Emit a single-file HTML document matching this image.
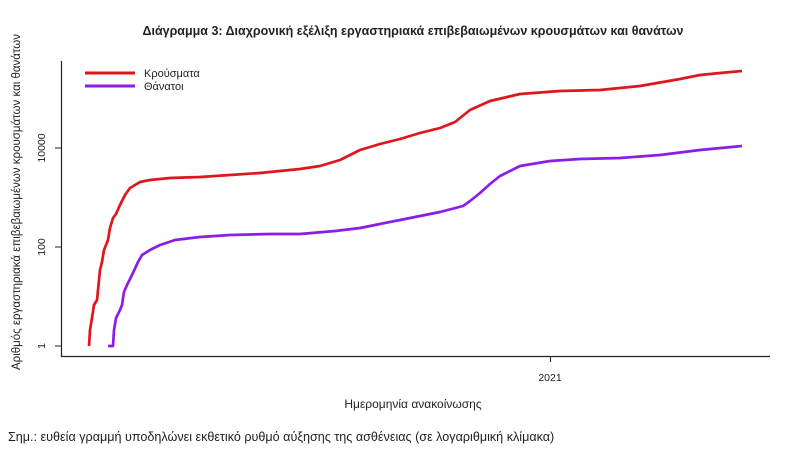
<!DOCTYPE html>
<html><head><meta charset="utf-8"><style>
html,body{margin:0;padding:0;background:#fff;}
svg{display:block;}
text{font-family:"Liberation Sans",sans-serif;fill:#222;}
</style></head><body>
<svg width="800" height="452" viewBox="0 0 800 452" xmlns="http://www.w3.org/2000/svg">
<text x="413" y="35" font-size="12.5" font-weight="bold" text-anchor="middle">Διάγραμμα 3: Διαχρονική εξέλιξη εργαστηριακά επιβεβαιωμένων κρουσμάτων και θανάτων</text>
<line x1="61.5" y1="61" x2="61.5" y2="357" stroke="#222" stroke-width="1.2"/>
<line x1="61" y1="356.5" x2="770" y2="356.5" stroke="#222" stroke-width="1.2"/>
<line x1="55" y1="346" x2="61" y2="346" stroke="#222"/>
<line x1="55" y1="247" x2="61" y2="247" stroke="#222"/>
<line x1="55" y1="148" x2="61" y2="148" stroke="#222"/>
<line x1="550.5" y1="356" x2="550.5" y2="362" stroke="#222"/>
<text transform="translate(45,346) rotate(-90)" font-size="10.5" text-anchor="middle">1</text>
<text transform="translate(45,247) rotate(-90)" font-size="10.5" text-anchor="middle">100</text>
<text transform="translate(45,148) rotate(-90)" font-size="10.5" text-anchor="middle">10000</text>
<text x="550" y="381" font-size="10.5" text-anchor="middle">2021</text>
<text x="413" y="408" font-size="12" text-anchor="middle">Ημερομηνία ανακοίνωσης</text>
<text transform="translate(20,202) rotate(-90)" font-size="11.5" text-anchor="middle">Αριθμός εργαστηριακά επιβεβαιωμένων κρουσμάτων και θανάτων</text>
<text x="8" y="441" font-size="12.6">Σημ.: ευθεία γραμμή υποδηλώνει εκθετικό ρυθμό αύξησης της ασθένειας (σε λογαριθμική κλίμακα)</text>
<line x1="85" y1="73" x2="135" y2="73" stroke="#e0161c" stroke-width="3"/>
<line x1="85" y1="86" x2="135" y2="86" stroke="#8a1ee8" stroke-width="3"/>
<text x="144" y="77" font-size="11">Κρούσματα</text>
<text x="144" y="90" font-size="11">Θάνατοι</text>
<polyline fill="none" stroke="#e0161c" stroke-width="2.7" stroke-linejoin="round" points="89,346 90,330 92,318 94,305 97,300 98,290 100,270 102,262 104,250 106,245 108,240 110,228 113,218 116,214 120,205 125,195 130,188 140,182 150,180 170,178 200,177 230,175 260,173 280,171 300,169 320,166 340,160 360,150 380,144 400,139 420,133 440,128 455,122 470,110 490,101 520,94 560,91 600,90 640,86 680,79 700,75 720,73 742,71"/>
<polyline fill="none" stroke="#8a1ee8" stroke-width="2.7" stroke-linejoin="round" points="108,346 113,346 114,330 116,318 120,310 122,305 124,292 127,285 132,275 138,262 142,255 150,250 160,245 175,240 200,237 230,235 270,234 300,234 335,231 360,228 380,224 400,220 420,216 440,212 463,206 470,201 480,193 490,184 500,176 520,166 550,161 580,159 620,158 660,155 700,150 742,146"/>
</svg>
</body></html>
